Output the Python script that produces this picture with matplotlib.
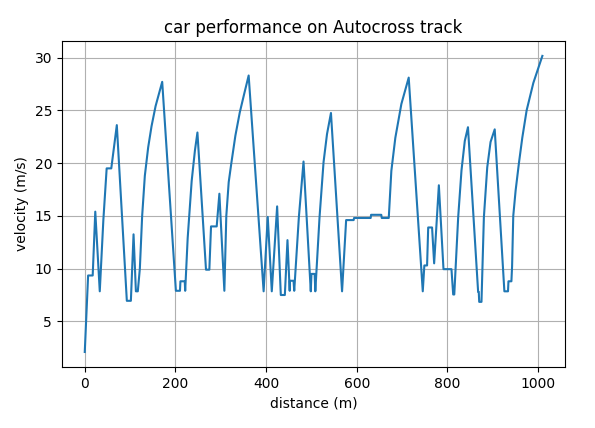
import matplotlib
matplotlib.use("Agg")
import matplotlib.pyplot as plt

# velocity profile (distance in m, velocity in m/s)
distance = [
    0, 7.4, 17.5, 23.2, 33.1, 41.0, 48.3, 58.5, 70.7, 92.8, 101.7, 107.6, 112.8, 117.0,
    121.5, 126.6, 132.5, 139.9, 147.3, 156.2, 170.8,
    201.0, 210.0, 211.0, 220.5, 221.5,
    227.0, 235.8, 243.0, 248.5,
    267.4, 274.8, 278.5, 291.0, 296.9, 307.9,
    312.2, 317.5, 323.3, 332.2, 341.9, 351.3, 361.5,
    394.5, 403.6, 412.5, 424.3, 432.4, 441.3, 447.1, 452.0, 452.5, 460.5, 462.0,
    472.2, 482.5,
    498.5, 500.0, 507.0, 508.5,
    517.8, 526.7, 534.3, 543.0,
    567.5, 576.5, 593.0, 594.0, 630.6, 631.5, 654.0, 655.0, 670.5,
    676.2, 685.0, 698.3, 714.5,
    745.5, 749.0, 755.0, 757.5, 766.0, 770.6, 781.0, 791.2, 808.8, 812.6, 815.0,
    823.6, 830.9, 838.2, 845.2,
    867.6, 869.0, 870.0, 875.0,
    880.3, 887.7, 895.0, 904.2,
    925.5, 933.5, 934.5, 941.0,
    942.5, 945.1, 950.3, 957.6, 965.0, 974.6, 989.4, 1009.3,
]
velocity = [
    2.1, 9.35, 9.35, 15.4, 7.85, 14.6, 19.5, 19.5, 23.6, 6.95, 6.95, 13.25, 7.85, 7.85,
    10.0, 15.0, 18.8, 21.5, 23.5, 25.4, 27.7,
    7.9, 7.9, 8.8, 8.8, 7.9,
    12.9, 18.3, 21.2, 22.9,
    9.9, 9.9, 14.0, 14.0, 17.1, 7.9,
    15.0, 18.2, 20.0, 22.6, 24.8, 26.5, 28.3,
    7.85, 14.9, 7.85, 15.9, 7.5, 7.5, 12.7, 7.9, 8.85, 8.85, 7.9,
    14.86, 20.15,
    7.85, 9.5, 9.5, 7.85,
    14.86, 20.1, 22.75, 24.75,
    7.85, 14.6, 14.6, 14.8, 14.8, 15.1, 15.1, 14.8, 14.8,
    19.26, 22.4, 25.6, 28.1,
    7.85, 10.3, 10.3, 13.9, 13.9, 10.5, 17.9, 9.95, 9.95, 7.55, 7.55,
    14.86, 19.3, 22.1, 23.4,
    7.8, 7.8, 6.85, 6.85,
    14.86, 19.6, 22.0, 23.2,
    7.85, 7.85, 8.8, 8.8,
    10.2, 15.0, 17.4, 20.0, 22.4, 25.0, 27.6, 30.16,
]

fig, ax = plt.subplots(figsize=(5.95, 4.28), dpi=100)
fig.subplots_adjust(left=0.104, right=0.95, top=0.904, bottom=0.143)

ax.plot(distance, velocity)
ax.set_title("car performance on Autocross track")
ax.set_xlabel("distance (m)")
ax.set_ylabel("velocity (m/s)")
ax.grid(True)

fig.savefig("out.png", dpi=100)
